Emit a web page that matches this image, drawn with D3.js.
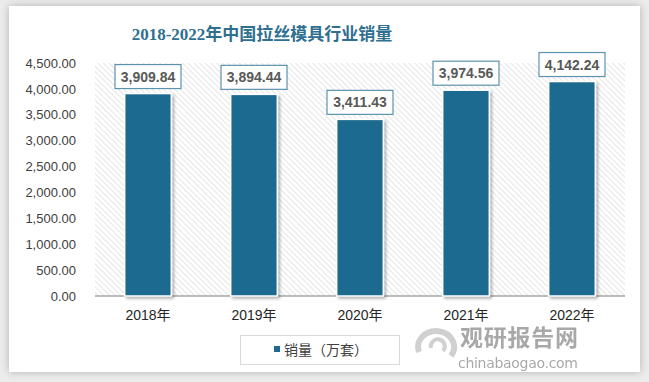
<!DOCTYPE html>
<html><head><meta charset="utf-8">
<script src="https://cdn.jsdelivr.net/npm/d3@7"></script>
<style>
html,body{margin:0;padding:0;background:#ececec;}
svg{display:block;}
</style></head>
<body>
<svg id="chart" width="649" height="382"></svg>
<script>
const title = "2018-2022年中国拉丝模具行业销量";
const categories = ["2018年","2019年","2020年","2021年","2022年"];
const seriesName = "销量（万套）";
const values = [3909.84, 3894.44, 3411.43, 3974.56, 4142.24];
const yTicks = [0,500,1000,1500,2000,2500,3000,3500,4000,4500];

const svg = d3.select("#chart");
const W = 649, H = 382;
const defs = svg.append("defs");

const cf = defs.append("filter").attr("id","cardShadow").attr("x","-5%").attr("y","-5%").attr("width","110%").attr("height","110%");
cf.append("feGaussianBlur").attr("in","SourceAlpha").attr("stdDeviation",4);
cf.append("feComponentTransfer").append("feFuncA").attr("type","linear").attr("slope",0.25);
const cm = cf.append("feMerge"); cm.append("feMergeNode"); cm.append("feMergeNode").attr("in","SourceGraphic");

const bf = defs.append("filter").attr("id","barShadow").attr("x","-20%").attr("y","-20%").attr("width","140%").attr("height","140%");
bf.append("feGaussianBlur").attr("in","SourceAlpha").attr("stdDeviation",1.5);
bf.append("feOffset").attr("dx",1.5).attr("dy",1.5);
bf.append("feComponentTransfer").append("feFuncA").attr("type","linear").attr("slope",0.3);
const bm = bf.append("feMerge"); bm.append("feMergeNode"); bm.append("feMergeNode").attr("in","SourceGraphic");

const pat = defs.append("pattern").attr("id","hatch").attr("patternUnits","userSpaceOnUse")
  .attr("width",4).attr("height",4).attr("patternTransform","rotate(-45)");
pat.append("rect").attr("width",4).attr("height",4).attr("fill","#ffffff");
pat.append("line").attr("x1",0).attr("y1",0).attr("x2",0).attr("y2",4).attr("stroke","#d4d4d4").attr("stroke-width",1.2);

svg.append("rect").attr("x",0).attr("y",0).attr("width",W).attr("height",H).attr("fill","#ececec");
svg.append("rect").attr("x",9).attr("y",6).attr("width",631).attr("height",366).attr("fill","#ffffff").attr("filter","url(#cardShadow)");

const m = {left:95, right:625, top:63, bottom:296};
const x = d3.scaleBand().domain(categories).range([m.left, m.right]).paddingInner(0.56).paddingOuter(0.28);
const y = d3.scaleLinear().domain([0,4500]).range([m.bottom, m.top]);

svg.append("rect").attr("x",m.left).attr("y",m.top).attr("width",m.right-m.left).attr("height",m.bottom-m.top).attr("fill","url(#hatch)");

svg.append("text").attr("x",262).attr("y",40).attr("text-anchor","middle")
  .attr("font-family","'Liberation Serif','Noto Sans CJK SC',serif").attr("font-weight","bold")
  .attr("font-size",17).attr("fill","#2f6f8f").text(title);

const yAxis = d3.axisLeft(y).tickValues(yTicks).tickSize(0).tickPadding(0)
  .tickFormat(d => d3.format(",.2f")(d));
const yg = svg.append("g").attr("transform",`translate(76,0)`).call(yAxis);
yg.select(".domain").remove();
yg.selectAll("text").attr("font-family","'Liberation Sans',Arial,sans-serif").attr("font-size",13).attr("fill","#404040");

const xAxis = d3.axisBottom(x).tickSize(0).tickPadding(14);
const xg = svg.append("g").attr("transform",`translate(0,${m.bottom})`).call(xAxis);
xg.select(".domain").attr("stroke","#a6a6a6").attr("stroke-width",1.5).attr("d",`M${m.left},0H${m.right}`);
xg.selectAll("text").attr("font-family","'Liberation Sans','Noto Sans CJK SC',sans-serif").attr("font-size",14).attr("fill","#262626");

svg.append("g").selectAll("rect").data(values).join("rect")
  .attr("x",(d,i)=>x(categories[i])).attr("width",x.bandwidth())
  .attr("y",d=>y(d)).attr("height",d=>m.bottom-y(d))
  .attr("fill","#1e6b8f").attr("stroke","#ffffff").attr("stroke-width",1.5)
  .attr("filter","url(#barShadow)");

const lg = svg.append("g").selectAll("g").data(values).join("g")
  .attr("transform",(d,i)=>`translate(${x(categories[i])+x.bandwidth()/2},${y(d)-17})`);
lg.append("rect").attr("x",-33).attr("y",-12).attr("width",66).attr("height",24)
  .attr("fill","#ffffff").attr("stroke","#5b93ae").attr("stroke-width",1.2);
lg.append("text").attr("text-anchor","middle").attr("dy","0.36em")
  .attr("font-family","'Liberation Sans',Arial,sans-serif").attr("font-weight","bold").attr("font-size",14)
  .attr("fill","#595959").text(d=>d3.format(",.2f")(d));

const leg = svg.append("g");
leg.append("rect").attr("x",240.5).attr("y",335.5).attr("width",159).attr("height",29).attr("fill","#ffffff").attr("stroke","#d9d9d9");
leg.append("rect").attr("x",274).attr("y",346).attr("width",6).attr("height",6).attr("fill","#1e6b8f");
leg.append("text").attr("x",284).attr("y",355).attr("font-family","'Noto Sans CJK SC',sans-serif").attr("font-size",14).attr("fill","#404040").text(seriesName);

const wm = svg.append("g").attr("opacity",0.85);
const lc = {x:437, y:346};
wm.append("path").attr("d",`M${lc.x-18},${lc.y+6} A18,16 0 1,1 ${lc.x+14},${lc.y+10}`).attr("fill","none").attr("stroke","#c8c8c8").attr("stroke-width",6);
wm.append("path").attr("d",`M${lc.x-6},${lc.y+2} A7,7 0 1,1 ${lc.x+6},${lc.y+5}`).attr("fill","none").attr("stroke","#c8c8c8").attr("stroke-width",4);
wm.append("text").attr("x",460).attr("y",346).attr("font-family","'Noto Sans CJK SC',sans-serif").attr("font-weight","bold").attr("font-size",23).attr("fill","#9a9a9a").attr("textLength",118).text("观研报告网");
wm.append("text").attr("x",458).attr("y",368).attr("font-family","'DejaVu Sans',sans-serif").attr("font-size",14).attr("fill","#9a9a9a").attr("textLength",120).text("chinabaogao.com");
</script>
</body></html>
